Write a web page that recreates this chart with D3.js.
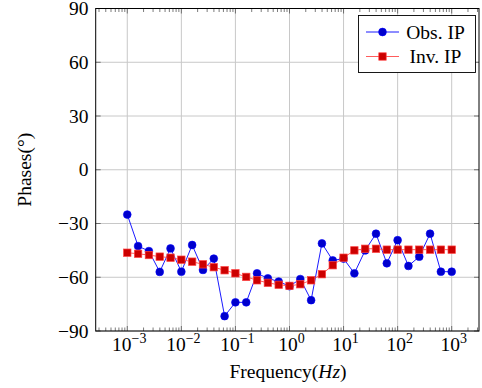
<!DOCTYPE html>
<html>
  <head>
    <meta charset="utf-8" />
    <style>
      body {
        margin: 0;
        background: #fff;
      }
      text {
        font-family: "Liberation Serif", "DejaVu Serif", serif;
      }
    </style>
    <script src="https://d3js.org/d3.v7.min.js"></script>
  </head>
  <body>
    <div id="chart"></div>
    <script type="text/javascript">
      // frequencies (Hz), 5 per decade
      var freqs = [
        0.001, 0.001585, 0.002512, 0.003981, 0.00631,
        0.01, 0.01585, 0.02512, 0.03981, 0.0631,
        0.1, 0.1585, 0.2512, 0.3981, 0.631,
        1, 1.585, 2.512, 3.981, 6.31,
        10, 15.85, 25.12, 39.81, 63.1,
        100, 158.5, 251.2, 398.1, 631,
        1000
      ];
      var obsIP = [
        -25, -42.6, -45.4, -57, -43.9, -56.9, -42, -55.9, -49.6, -81.7,
        -74, -74, -57.8, -60.6, -62.4, -65, -61, -72.8, -41.1, -50.6,
        -49.6, -57.8, -45, -35.7, -52.2, -39.3, -53.7, -48.5, -35.7, -56.9,
        -56.9
      ];
      var invIP = [
        -46.3, -46.9, -47.6, -48.5, -49.1, -50.2, -51.3, -52.8, -54.4, -56.1,
        -57.8, -59.8, -61.7, -63.1, -64.2, -64.8, -63.9, -61.7, -58.3, -53.3,
        -49.1, -45, -44.1, -44.1, -44.6, -44.6, -44.6, -44.6, -44.6, -44.6,
        -44.6
      ];
      var yTicks = [-90, -60, -30, 0, 30, 60, 90];
      var xExps = [-3, -2, -1, 0, 1, 2, 3];
      var seriesNames = ["Obs. IP", "Inv. IP"];

      var w = 482;
      var h = 388;
      var pLeft = 95.7, pRight = 479, pTop = 8.5, pBottom = 331;
      var fs = 19.5;

      var x = d3
        .scaleLog()
        .domain([Math.pow(10, -3.584), Math.pow(10, 3.505)])
        .range([pLeft, pRight]);
      var y = d3.scaleLinear().domain([-90, 90]).range([pBottom, pTop]);

      var svg = d3
        .select("#chart")
        .append("svg")
        .attr("width", w)
        .attr("height", h);

      // grid
      svg
        .append("g")
        .selectAll("line")
        .data(xExps)
        .enter()
        .append("line")
        .attr("x1", function (d) { return x(Math.pow(10, d)); })
        .attr("x2", function (d) { return x(Math.pow(10, d)); })
        .attr("y1", pTop)
        .attr("y2", pBottom)
        .attr("stroke", "#c8c8c8")
        .attr("stroke-width", 1);
      svg
        .append("g")
        .selectAll("line")
        .data(yTicks)
        .enter()
        .append("line")
        .attr("x1", pLeft)
        .attr("x2", pRight)
        .attr("y1", function (d) { return y(d); })
        .attr("y2", function (d) { return y(d); })
        .attr("stroke", "#c8c8c8")
        .attr("stroke-width", 1);

      // minor ticks on x (top and bottom)
      var minor = [];
      for (var e = -4; e <= 3; e++) {
        for (var k = 2; k <= 9; k++) {
          var v = k * Math.pow(10, e);
          if (x(v) > pLeft && x(v) < pRight) minor.push(v);
        }
      }
      var tickG = svg.append("g").attr("stroke", "#444").attr("stroke-width", 0.7);
      minor.forEach(function (v) {
        tickG.append("line").attr("x1", x(v)).attr("x2", x(v)).attr("y1", pBottom).attr("y2", pBottom - 3.5);
        tickG.append("line").attr("x1", x(v)).attr("x2", x(v)).attr("y1", pTop).attr("y2", pTop + 3.5);
      });
      xExps.forEach(function (d) {
        var xx = x(Math.pow(10, d));
        tickG.append("line").attr("x1", xx).attr("x2", xx).attr("y1", pBottom).attr("y2", pBottom - 5);
        tickG.append("line").attr("x1", xx).attr("x2", xx).attr("y1", pTop).attr("y2", pTop + 5);
      });
      yTicks.forEach(function (d) {
        tickG.append("line").attr("x1", pLeft).attr("x2", pLeft + 5).attr("y1", y(d)).attr("y2", y(d));
        tickG.append("line").attr("x1", pRight).attr("x2", pRight - 5).attr("y1", y(d)).attr("y2", y(d));
      });

      // series
      var line = d3
        .line()
        .x(function (d) { return x(d[0]); })
        .y(function (d) { return y(d[1]); });
      var obsData = d3.zip(freqs, obsIP);
      var invData = d3.zip(freqs, invIP);

      svg.append("path")
        .attr("d", line(obsData))
        .attr("fill", "none")
        .attr("stroke", "#0000ff")
        .attr("stroke-width", 0.9);
      svg.append("g")
        .selectAll("circle")
        .data(obsData)
        .enter()
        .append("circle")
        .attr("cx", function (d) { return x(d[0]); })
        .attr("cy", function (d) { return y(d[1]); })
        .attr("r", 3.9)
        .attr("fill", "#0000cc")
        .attr("stroke", "#0000ff")
        .attr("stroke-width", 0.6);

      svg.append("path")
        .attr("d", line(invData))
        .attr("fill", "none")
        .attr("stroke", "#ff4a4a")
        .attr("stroke-width", 0.9);
      var sq = 7.4;
      svg.append("g")
        .selectAll("rect")
        .data(invData)
        .enter()
        .append("rect")
        .attr("x", function (d) { return x(d[0]) - sq / 2; })
        .attr("y", function (d) { return y(d[1]) - sq / 2; })
        .attr("width", sq)
        .attr("height", sq)
        .attr("fill", "#cc0000")
        .attr("stroke", "#ff4040")
        .attr("stroke-width", 0.7);

      // frame
      svg.append("rect")
        .attr("x", pLeft)
        .attr("y", pTop)
        .attr("width", pRight - pLeft)
        .attr("height", pBottom - pTop)
        .attr("fill", "none")
        .attr("stroke", "#000")
        .attr("stroke-width", 1);

      // y tick labels
      svg.append("g")
        .selectAll("text")
        .data(yTicks)
        .enter()
        .append("text")
        .attr("x", 88.5)
        .attr("y", function (d) { return y(d) + 6.5; })
        .attr("text-anchor", "end")
        .attr("font-size", fs)
        .text(function (d) { return d < 0 ? "\u2212" + Math.abs(d) : d; });

      // x tick labels
      var xl = svg.append("g")
        .selectAll("text")
        .data(xExps)
        .enter()
        .append("text")
        .attr("x", function (d) { return x(Math.pow(10, d)) + 2; })
        .attr("y", 350.5)
        .attr("text-anchor", "middle")
        .attr("font-size", fs);
      xl.append("tspan").text("10");
      xl.append("tspan")
        .attr("dy", -8)
        .attr("font-size", 14)
        .text(function (d) { return d < 0 ? "\u2212" + Math.abs(d) : d; });

      // axis titles
      var xt = svg.append("text")
        .attr("x", 288)
        .attr("y", 377.5)
        .attr("text-anchor", "middle")
        .attr("font-size", fs);
      xt.append("tspan").text("Frequency(");
      xt.append("tspan").attr("font-style", "italic").text("Hz");
      xt.append("tspan").text(")");

      svg.append("text")
        .attr("transform", "translate(31," + y(0) + ")rotate(-90)")
        .attr("text-anchor", "middle")
        .attr("font-size", fs)
        .text("Phases(\u00b0)");

      // legend
      var lg = svg.append("g");
      lg.append("rect")
        .attr("x", 358.5)
        .attr("y", 15.5)
        .attr("width", 117)
        .attr("height", 57)
        .attr("fill", "#fff")
        .attr("stroke", "#000")
        .attr("stroke-width", 0.9);
      var rows = [32, 56.5];
      lg.append("line").attr("x1", 366).attr("x2", 399).attr("y1", rows[0]).attr("y2", rows[0])
        .attr("stroke", "#0000ff").attr("stroke-width", 0.9);
      lg.append("circle").attr("cx", 382.5).attr("cy", rows[0]).attr("r", 3.9)
        .attr("fill", "#0000cc").attr("stroke", "#0000ff").attr("stroke-width", 0.6);
      lg.append("line").attr("x1", 366).attr("x2", 399).attr("y1", rows[1]).attr("y2", rows[1])
        .attr("stroke", "#ff4a4a").attr("stroke-width", 0.9);
      lg.append("rect").attr("x", 382.5 - sq / 2).attr("y", rows[1] - sq / 2).attr("width", sq).attr("height", sq)
        .attr("fill", "#cc0000").attr("stroke", "#ff4040").attr("stroke-width", 0.7);
      lg.selectAll("text.lab")
        .data(seriesNames)
        .enter()
        .append("text")
        .attr("class", "lab")
        .attr("x", 435.5)
        .attr("y", function (d, i) { return rows[i] + 6.5; })
        .attr("text-anchor", "middle")
        .attr("font-size", fs)
        .text(function (d) { return d; });
    </script>
  </body>
</html>
